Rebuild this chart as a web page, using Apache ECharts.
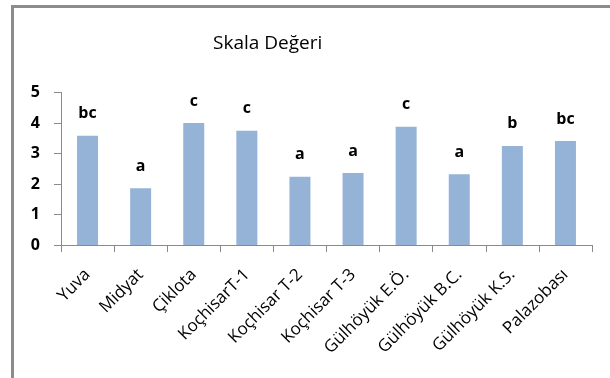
<!DOCTYPE html>
<html>
<head>
<meta charset="utf-8">
<script src="https://cdn.jsdelivr.net/npm/echarts@6/dist/echarts.min.js"></script>
<style>
html,body{margin:0;padding:0;background:#fff;}
#chart{width:610px;height:378px;}
</style>
</head>
<body>
<div id="chart"></div>
<script>
const categories = ['Yuva','Midyat','Çiklota','KoçhisarT-1','Koçhisar T-2','Koçhisar T-3','Gülhöyük E.Ö.','Gülhöyük B.C.','Gülhöyük K.S.','Palazobası'];
const values = [3.58, 1.86, 4.0, 3.75, 2.24, 2.36, 3.88, 2.32, 3.25, 3.41];
const letters = ['bc','a','c','c','a','a','c','a','b','bc'];
const yTicks = [0,1,2,3,4,5];
const titleText = 'Skala Değeri';

const chart = echarts.init(document.getElementById('chart'), null, {renderer:'canvas'});
const FONT = '"Open Sans", "Noto Sans", sans-serif';
chart.setOption({
  animation:false,
  backgroundColor:'#ffffff',
  title:{
    text:titleText,
    left:208, top:29,
    textStyle:{fontFamily:FONT, fontSize:19, fontWeight:'normal', color:'#000'}
  },
  graphic:[
    {type:'line', shape:{x1:12.5,y1:6,x2:12.5,y2:378}, style:{stroke:'#8c8c8c', lineWidth:3}},
    {type:'line', shape:{x1:11,y1:6.5,x2:610,y2:6.5}, style:{stroke:'#8c8c8c', lineWidth:3}}
  ],
  grid:{left:61, right:18, top:92.5, bottom:133, containLabel:false},
  xAxis:{
    type:'category', data:categories,
    axisLine:{lineStyle:{color:'#8a8a8a', width:1}},
    axisTick:{show:true, length:7, lineStyle:{color:'#8a8a8a'}},
    axisLabel:{rotate:45, interval:0, margin:27, fontFamily:FONT, fontSize:17, color:'#000'}
  },
  yAxis:{
    type:'value', min:0, max:5, interval:1,
    splitLine:{show:false},
    axisLine:{show:true, lineStyle:{color:'#8a8a8a'}},
    axisTick:{show:true, length:7, lineStyle:{color:'#8a8a8a'}},
    axisLabel:{margin:21, fontFamily:FONT, fontSize:16, fontWeight:'bold', color:'#000',
      formatter:function(v){return yTicks.indexOf(v)>=0 ? String(v) : '';}}
  },
  series:[{
    type:'bar',
    data:values.map((v,i)=>({value:v, label:{formatter:letters[i]}})),
    barWidth:21,
    itemStyle:{color:'#95b3d7'},
    label:{show:true, position:'top', distance:14, fontFamily:FONT, fontSize:16, fontWeight:'bold', color:'#000'}
  }]
});
</script>
</body>
</html>
